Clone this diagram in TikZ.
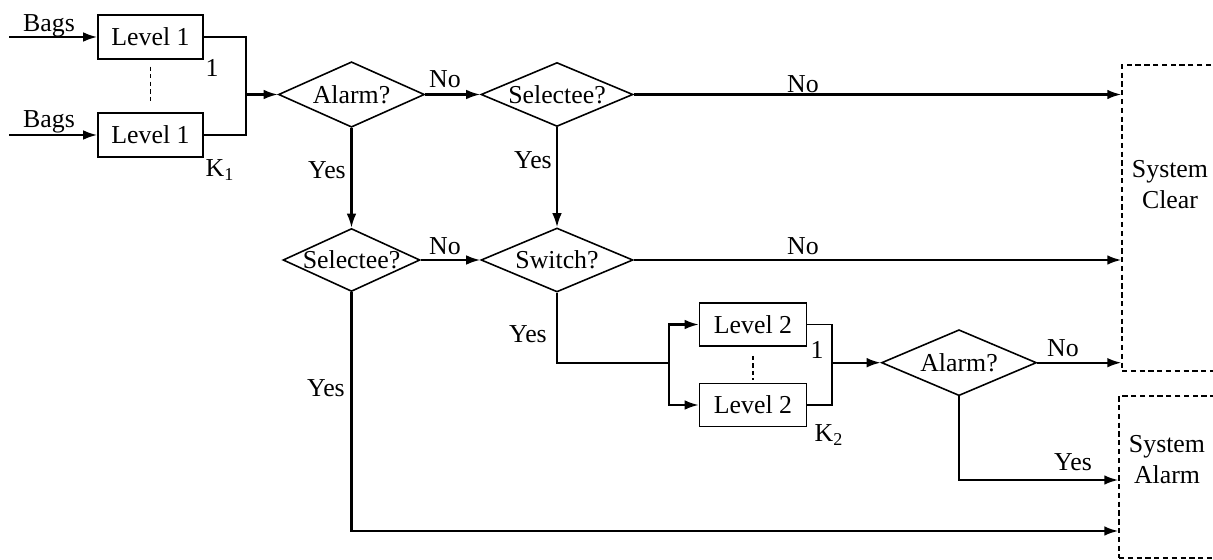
\documentclass[tikz,border=0pt]{standalone}
\usepackage{fontspec}
\setmainfont{Liberation Serif}
\usetikzlibrary{arrows.meta,shapes.geometric}

\begin{document}
\begin{tikzpicture}[x=0.02cm,y=-0.02cm,
  font=\fontsize{14.7}{17.6}\selectfont,
  lvbox/.style={draw,line width=0.9pt,minimum width=2.1cm,minimum height=0.87cm,inner sep=0pt},
  decide/.style={draw,diamond,aspect=2.4,inner xsep=-4pt,inner ysep=0pt,line width=0.9pt,minimum width=3cm,minimum height=1.3cm},
  outbox/.style={draw,line width=0.8pt,dash pattern=on 3pt off 2pt,inner sep=0pt},
  arr/.style={-{Latex[length=8pt,width=5.5pt]},line width=1.2pt},
  wire/.style={line width=1.1pt},
  gap/.style={line width=0.7pt,dash pattern=on 2.5pt off 1.8pt},
  lbl/.style={anchor=base,inner sep=0pt}]
\useasboundingbox (0,0) rectangle (1213,560);

% level 1 machines
\node[lvbox] (lv1a) at (150.5,37) {Level 1};
\node[lvbox] (lv1b) at (150.5,135) {Level 1};
\coordinate (bag1a) at (9,37);
\coordinate (bag1b) at (9,135);
\coordinate (join1) at (246,94.5);
\node[lbl] (bagsa) at (49,32) {Bags};
\node[lbl] (bagsb) at (49,128) {Bags};
\node[lbl] (n1a) at (212,76.7) {1};
\node[lbl] (k1) at (220,176.7) {K\textsubscript{1}};

% decisions
\node[decide,minimum width=2.92cm,minimum height=1.31cm] (alarm1) at (351.5,94.5) {Alarm?};
\node[decide,minimum width=3.04cm,minimum height=1.28cm] (sel1) at (557,94.5) {Selectee?};
\node[decide,minimum width=2.74cm,minimum height=1.26cm] (sel2) at (351.5,260) {Selectee?};
\node[decide,minimum width=3.04cm,minimum height=1.28cm] (switch) at (557,260) {Switch?};

% level 2 machines
\node[lvbox,minimum width=2.14cm,minimum height=0.86cm] (lv2a) at (753,324.5) {Level 2};
\node[lvbox,minimum width=2.14cm,minimum height=0.86cm] (lv2b) at (753,405) {Level 2};
\coordinate (split2) at (669,362.7);
\coordinate (join2) at (832,362.7);
\node[lbl] (n2a) at (817,358.3) {1};
\node[lbl] (k2) at (829,441.7) {K\textsubscript{2}};
\node[decide,minimum width=3.1cm,minimum height=1.32cm] (alarm2) at (959,362.7) {Alarm?};

% outcomes
\node[outbox,minimum width=1.96cm,minimum height=6.12cm] (clear) at (1171,218) {};
\node[align=center,inner sep=0pt] (cleartxt) at (1170,185) {System\\Clear};
\node[outbox,minimum width=1.98cm,minimum height=3.24cm] (alarmout) at (1168.5,477) {};
\node[align=center,inner sep=0pt] (alarmtxt) at (1167,460) {System\\Alarm};

% labels
\node[lbl] (no1) at (445,88) {No};
\node[lbl] (no2) at (803,93) {No};
\node[lbl] (no3) at (445,255) {No};
\node[lbl] (no4) at (803,255) {No};
\node[lbl] (no5) at (1063,356.7) {No};
\node[lbl] (yes1) at (327,178.3) {Yes};
\node[lbl] (yes2) at (533,168.3) {Yes};
\node[lbl] (yes3) at (528,342.3) {Yes};
\node[lbl] (yes4) at (326,396.7) {Yes};
\node[lbl] (yes5) at (1073,470) {Yes};

% connectors
\draw[arr] (bag1a) -- (lv1a);
\draw[arr] (bag1b) -- (lv1b);
\draw[gap] ([yshift=-0.14cm]lv1a.south) -- ([yshift=0.2cm]lv1b.north);
\draw[wire] (lv1a.east) -| (join1) (lv1b.east) -| (join1);
\draw[arr] (join1) -- (alarm1.west);
\draw[arr] (alarm1.east) -- (sel1.west);
\draw[arr] (sel1.east) -- (sel1.east -| clear.west);
\draw[arr] (alarm1.south) -- (sel2.north);
\draw[arr] (sel1.south) -- (switch.north);
\draw[arr] (sel2.east) -- (switch.west);
\draw[arr] (switch.east) -- (switch.east -| clear.west);
\draw[wire] (switch.south) |- (split2);
\draw[arr] (split2) |- (lv2a.west);
\draw[arr] (split2) |- (lv2b.west);
\draw[gap] ([yshift=-0.18cm]lv2a.south) -- ([yshift=0.06cm]lv2b.north);
\draw[wire] (lv2a.east) -| (join2) (lv2b.east) -| (join2);
\draw[arr] (join2) -- (alarm2.west);
\draw[arr] (alarm2.east) -- (alarm2.east -| clear.west);
\draw[arr] (alarm2.south) |- ([yshift=-0.06cm]alarmout.west);
\draw[arr] (sel2.south) |- ([yshift=-1.08cm]alarmout.west);
\end{tikzpicture}
\end{document}
